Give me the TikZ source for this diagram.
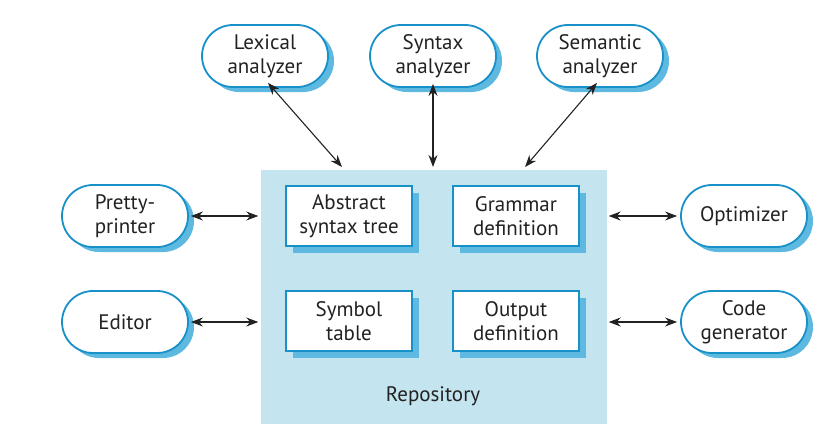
\documentclass[tikz,border=0pt]{standalone}
\usepackage{fontspec}
\setmainfont{PT Sans}
\usetikzlibrary{shadows,arrows.meta}
\definecolor{bordercol}{HTML}{1890C8}
\definecolor{shadowcol}{HTML}{5DB9E0}
\definecolor{repocol}{HTML}{C4E4EF}
\definecolor{txtcol}{HTML}{222222}
\tikzset{
  term/.style={draw=bordercol, line width=1.8pt, fill=white, rounded corners=31pt,
    minimum width=126pt, minimum height=62pt, align=center, inner sep=0pt,
    text=txtcol, font=\fontsize{21pt}{24pt}\selectfont,
    drop shadow={shadow xshift=6pt, shadow yshift=-5pt, fill=shadowcol, opacity=1}},
  store/.style={draw=bordercol, line width=1.8pt, fill=white,
    minimum width=126pt, minimum height=60pt, align=center, inner sep=0pt,
    text=txtcol, font=\fontsize{21pt}{24pt}\selectfont,
    drop shadow={shadow xshift=7pt, shadow yshift=-7pt, fill=shadowcol, opacity=1}},
  arr/.style={draw=txtcol, line width=1.1pt, {Stealth[length=12pt,width=9pt]}-{Stealth[length=12pt,width=9pt]}},
}
\begin{document}
\begin{tikzpicture}[x=1pt,y=-1pt]
\useasboundingbox (0,0) rectangle (828,432);
\node[fill=repocol, minimum width=346pt, minimum height=254pt, inner sep=0pt] (repo) at (433.5,297) {};
\node[store] (ast) at (349,216) {Abstract\\syntax tree};
\node[store] (gram) at (516,216) {Grammar\\definition};
\node[store] (sym) at (349,321) {Symbol\\table};
\node[store] (out) at (516,321) {Output\\definition};
\node[text=txtcol, font=\fontsize{21pt}{24pt}\selectfont] (repolab) at (433,396) {Repository};
\node[term] (lex) at (265,56) {Lexical\\analyzer};
\node[term] (syn) at (433,56) {Syntax\\analyzer};
\node[term] (sem) at (600,56) {Semantic\\analyzer};
\node[term] (pp) at (125,216) {Pretty-\\printer};
\node[term] (ed) at (125,322) {Editor};
\node[term] (opt) at (744,216) {Optimizer};
\node[term] (cg) at (744,322) {Code\\generator};
\coordinate (lexend) at (342,167);
\coordinate (synend) at (433,167);
\coordinate (semend) at (525,167);
\draw[arr] ([xshift=3pt,yshift=5pt]lex.south) -- (lexend);
\draw[arr] ([yshift=4pt]syn.south) -- (synend);
\draw[arr] ([xshift=-3pt,yshift=5pt]sem.south) -- (semend);
\draw[arr] ([xshift=2pt]pp.east) -- ([xshift=-2pt]repo.west |- pp.east);
\draw[arr] ([xshift=2pt]ed.east) -- ([xshift=-2pt]repo.west |- ed.east);
\draw[arr] ([xshift=2pt]repo.east |- opt.west) -- ([xshift=-3pt]opt.west);
\draw[arr] ([xshift=2pt]repo.east |- cg.west) -- ([xshift=-3pt]cg.west);
\end{tikzpicture}
\end{document}
